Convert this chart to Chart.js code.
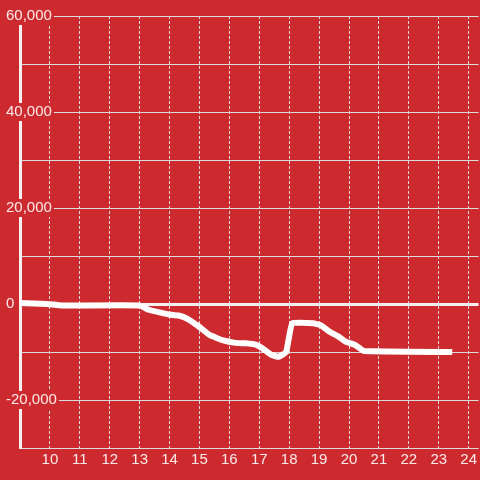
<!DOCTYPE html>
<html>
<head>
<meta charset="utf-8">
<script src="https://cdn.jsdelivr.net/npm/chart.js@4/dist/chart.umd.min.js"></script>
<style>
  html, body { margin: 0; padding: 0; background: #cc2a2e; }
  canvas { display: block; }
</style>
</head>
<body>
<canvas id="c" width="480" height="480"></canvas>
<script>
const hours  = [9, 9.9, 10.4, 13.0, 13.3, 13.7, 14.0, 14.3, 14.6, 15.0, 15.35, 15.8, 16.2, 16.55, 16.9, 17.1, 17.4, 17.65, 17.9, 18.1, 18.8, 19.05, 19.35, 19.65, 19.9, 20.2, 20.5, 23.45];
const values = [200, 0, -300, -300, -1200, -1800, -2200, -2400, -3100, -4800, -6500, -7600, -8100, -8200, -8500, -9200, -10600, -11000, -10000, -4000, -4000, -4400, -5800, -6800, -7900, -8500, -9800, -10000];
const xTickHours = [10, 11, 12, 13, 14, 15, 16, 17, 18, 19, 20, 21, 22, 23, 24];
const yTickValues = [-30000, -20000, -10000, 0, 10000, 20000, 30000, 40000, 50000, 60000];

const BG = '#cc2a2e';
const TXT = 'rgba(255,255,255,0.9)';
const GRID = '#dcdcdc';

const points = hours.map((h, i) => ({ x: h, y: values[i] }));

new Chart(document.getElementById('c'), {
  type: 'line',
  data: {
    datasets: [{
      data: points,
      borderColor: '#ffffff',
      borderWidth: 6,
      pointRadius: 0,
      tension: 0.1,
      fill: false
    }]
  },
  options: {
    responsive: false,
    animation: false,
    devicePixelRatio: 1,
    layout: { padding: { top: 16, right: 0, left: 0, bottom: 0 } },
    plugins: { legend: { display: false }, tooltip: { enabled: false } },
    font: { family: "'Liberation Sans', Arial, sans-serif", size: 15 },
    scales: {
      x: {
        type: 'linear',
        min: 9,
        max: 24.333,
        afterBuildTicks: (s) => { s.ticks = xTickHours.map(v => ({ value: v })); },
        afterFit: (s) => { s.height = 32; },
        ticks: {
          color: TXT,
          font: { family: "'Liberation Sans', Arial, sans-serif", size: 15 },
          padding: 3,
          maxRotation: 0,
          autoSkip: false,
          callback: (v) => String(v)
        },
        grid: { color: GRID, lineWidth: 1, drawTicks: false },
        border: { display: false, dash: [3, 2] }
      },
      y: {
        type: 'linear',
        min: -30000,
        max: 60000,
        afterBuildTicks: (s) => { s.ticks = yTickValues.map(v => ({ value: v })); },
        afterFit: (s) => { s.width = 20; },
        ticks: {
          color: TXT,
          font: { family: "'Liberation Sans', Arial, sans-serif", size: 15 },
          mirror: true,
          crossAlign: 'near',
          padding: -14,
          z: 1,
          showLabelBackdrop: true,
          backdropColor: BG,
          backdropPadding: { top: 0, bottom: 0, left: 2, right: 2 },
          callback: (v) => (v % 20000 === 0 ? v.toLocaleString('en-US') : '')
        },
        grid: {
          drawTicks: false,
          color: (ctx) => (ctx.tick && ctx.tick.value === 0 ? '#f4f0f0' : GRID),
          lineWidth: (ctx) => (ctx.tick && ctx.tick.value === 0 ? 3 : 1)
        },
        border: { display: true, color: '#f4f0f0', width: 3 }
      }
    }
  }
});
</script>
</body>
</html>
